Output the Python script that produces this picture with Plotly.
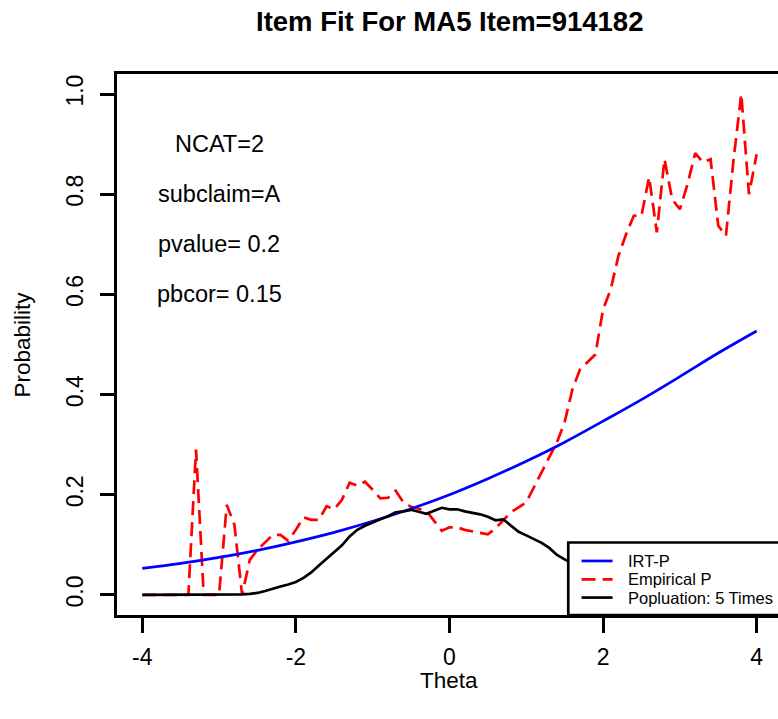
import plotly.graph_objects as go

# Theta grids
theta_fine = [round(-4 + 0.1 * i, 1) for i in range(81)]
theta_coarse = [-4.0, -3.5, -3.0, -2.5, -2.0, -1.5, -1.0, -0.5, 0.0,
                0.5, 1.0, 1.5, 2.0, 2.5, 3.0, 3.5, 4.0]

# Model-implied probability (IRT-P)
irt_p = [0.053, 0.063, 0.075, 0.089, 0.106, 0.125, 0.147, 0.172, 0.200,
         0.232, 0.267, 0.305, 0.347, 0.390, 0.436, 0.483, 0.527]

# Observed proportion correct (Empirical P)
empirical_p = [
    0.000, 0.000, 0.000, 0.000, 0.000, 0.000, 0.000, 0.290, 0.000, 0.000,   # -4.0 .. -3.1
    0.000, 0.180, 0.140, 0.000, 0.070, 0.090, 0.105, 0.120, 0.120, 0.108,   # -3.0 .. -2.1
    0.130, 0.155, 0.150, 0.150, 0.177, 0.171, 0.190, 0.224, 0.218, 0.226,   # -2.0 .. -1.1
    0.210, 0.193, 0.194, 0.208, 0.185, 0.176, 0.172, 0.168, 0.148, 0.128,   # -1.0 .. -0.1
    0.135, 0.135, 0.130, 0.127, 0.124, 0.121, 0.133, 0.150, 0.165, 0.175,   #  0.0 ..  0.9
    0.185, 0.215, 0.245, 0.275, 0.305, 0.345, 0.410, 0.450, 0.465, 0.480,   #  1.0 ..  1.9
    0.570, 0.610, 0.677, 0.720, 0.757, 0.757, 0.834, 0.724, 0.870, 0.790,   #  2.0 ..  2.9
    0.770, 0.820, 0.882, 0.864, 0.870, 0.737, 0.717, 0.870, 1.000, 0.800,   #  3.0 ..  3.9
    0.880,                                                                  #  4.0
]

# Scaled population density of theta
population = [
    0.000, 0.000, 0.000, 0.000, 0.000, 0.000, 0.000, 0.000, 0.000, 0.000,   # -4.0 .. -3.1
    0.000, 0.000, 0.000, 0.001, 0.002, 0.004, 0.008, 0.013, 0.017, 0.021,   # -3.0 .. -2.1
    0.026, 0.034, 0.045, 0.059, 0.072, 0.085, 0.099, 0.117, 0.130, 0.138,   # -2.0 .. -1.1
    0.145, 0.151, 0.157, 0.165, 0.167, 0.170, 0.166, 0.162, 0.168, 0.174,   # -1.0 .. -0.1
    0.171, 0.171, 0.167, 0.164, 0.161, 0.156, 0.149, 0.151, 0.138, 0.126,   #  0.0 ..  0.9
    0.119, 0.112, 0.104, 0.094, 0.080, 0.071, 0.064, 0.056, 0.048, 0.040,   #  1.0 ..  1.9
    0.033, 0.027, 0.022, 0.017, 0.013, 0.010, 0.007, 0.005, 0.003, 0.002,   #  2.0 ..  2.9
    0.001, 0.001, 0.000, 0.000, 0.000, 0.000, 0.000, 0.000, 0.000, 0.000,   #  3.0 ..  3.9
    0.000,                                                                  #  4.0
]

x_ticks = [-4, -2, 0, 2, 4]
x_tick_labels = ["-4", "-2", "0", "2", "4"]
y_ticks = [0.0, 0.2, 0.4, 0.6, 0.8, 1.0]
y_tick_labels = ["0.0", "0.2", "0.4", "0.6", "0.8", "1.0"]

stats_text = ["NCAT=2", "subclaim=A", "pvalue= 0.2", "pbcor= 0.15"]
stats_y = [0.9, 0.8, 0.7, 0.6]

legend_names = ["IRT-P", "Empirical P", "Popluation: 5 Times"]
legend_colors = ["#0000FF", "#FF0000", "#000000"]
legend_dash = ["solid", "14px,7px", "solid"]

FONT = "Liberation Sans, Arial, Helvetica, sans-serif"
LW = 2.7

fig = go.Figure()
fig.add_trace(go.Scatter(x=theta_fine, y=empirical_p, mode="lines",
                         line=dict(color=legend_colors[1], width=LW, dash=legend_dash[1]),
                         showlegend=False))
fig.add_trace(go.Scatter(x=theta_coarse, y=irt_p, mode="lines", line_shape="spline",
                         line=dict(color=legend_colors[0], width=LW),
                         showlegend=False))
fig.add_trace(go.Scatter(x=theta_fine, y=population, mode="lines",
                         line=dict(color=legend_colors[2], width=LW),
                         showlegend=False))

# statistics block
for txt, yy in zip(stats_text, stats_y):
    fig.add_annotation(x=-3, y=yy, text=txt, showarrow=False,
                       font=dict(family=FONT, size=23.5, color="black"),
                       xanchor="center", yanchor="middle")

# legend box in the lower-right corner
leg_left, leg_top = 1.547, 0.1047
fig.add_shape(type="rect", x0=leg_left, x1=4.6, y0=-0.04, y1=leg_top,
              line=dict(color="black", width=LW), fillcolor="white", layer="above")
leg_rows = [0.0679, 0.0313, -0.0052]
for name, col, dsh, yy in zip(legend_names, legend_colors, legend_dash, leg_rows):
    fig.add_shape(type="line", x0=1.720, x1=2.124, y0=yy, y1=yy,
                  line=dict(color=col, width=LW, dash=dsh), layer="above")
    fig.add_annotation(x=2.300, y=yy, text=name, showarrow=False,
                       font=dict(family=FONT, size=16.5, color="black"),
                       xanchor="left", yanchor="middle")

# title and axis titles
fig.add_annotation(x=0, xref="x", y=1.097, yref="paper",
                   text="<b>Item Fit For MA5 Item=914182</b>", showarrow=False,
                   font=dict(family=FONT, size=27.5, color="black"),
                   xanchor="center", yanchor="middle")
fig.add_annotation(x=0, xref="x", y=-0.121, yref="paper", text="Theta",
                   showarrow=False, font=dict(family=FONT, size=22.5, color="black"),
                   xanchor="center", yanchor="middle")
fig.add_annotation(x=-0.1437, xref="paper", y=0.5, yref="y", text="Probability",
                   showarrow=False, textangle=-90,
                   font=dict(family=FONT, size=22.5, color="black"),
                   xanchor="center", yanchor="middle")

fig.update_layout(
    width=778, height=719,
    margin=dict(l=117, r=0, t=74, b=104),
    paper_bgcolor="white", plot_bgcolor="white",
    showlegend=False,
    font=dict(family=FONT, size=22, color="black"),
    xaxis=dict(range=[-4.329, 4.278], tickvals=x_ticks, ticktext=x_tick_labels,
               showgrid=False, zeroline=False, showline=True, mirror=True,
               linecolor="black", linewidth=LW, ticks="outside", ticklen=15,
               tickwidth=LW, tickcolor="black", ticklabelstandoff=5,
               tickfont=dict(family=FONT, size=23, color="black")),
    yaxis=dict(range=[-0.04, 1.04], tickvals=y_ticks, ticktext=y_tick_labels,
               showgrid=False, zeroline=False, showline=True, mirror=False,
               linecolor="black", linewidth=LW, ticks="outside", ticklen=14,
               tickwidth=LW, tickcolor="black", tickangle=-90, ticklabelstandoff=8,
               tickfont=dict(family=FONT, size=23, color="black")),
)

fig.write_html("out.html")
